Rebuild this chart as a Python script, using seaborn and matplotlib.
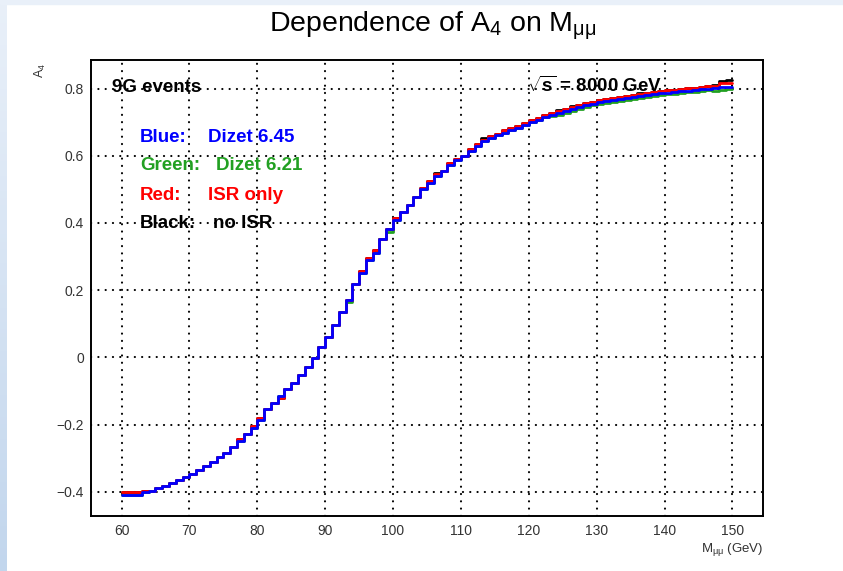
import numpy as np
import pandas as pd
import matplotlib
matplotlib.use("Agg")
import matplotlib.pyplot as plt
import seaborn as sns
from matplotlib.colors import LinearSegmentedColormap

# ---------------- data (bin low edges 60..149, width 1 GeV) ----------------
mass_lo = list(range(60, 150))

blue = [-0.410, -0.410, -0.410, -0.402, -0.398, -0.390, -0.383, -0.375, -0.365, -0.357,
        -0.347, -0.335, -0.323, -0.310, -0.297, -0.284, -0.266, -0.249, -0.228, -0.211,
        -0.185, -0.155, -0.136, -0.116, -0.093, -0.076, -0.052, -0.029, -0.002, 0.031,
        0.061, 0.095, 0.134, 0.172, 0.217, 0.250, 0.290, 0.310, 0.351, 0.381,
        0.409, 0.433, 0.453, 0.476, 0.500, 0.520, 0.540, 0.556, 0.572, 0.586,
        0.600, 0.615, 0.630, 0.643, 0.654, 0.661, 0.668, 0.676, 0.684, 0.691,
        0.700, 0.707, 0.714, 0.721, 0.727, 0.733, 0.739, 0.745, 0.750, 0.755,
        0.759, 0.763, 0.766, 0.769, 0.772, 0.775, 0.778, 0.781, 0.783, 0.786,
        0.788, 0.790, 0.792, 0.794, 0.796, 0.798, 0.800, 0.802, 0.804, 0.806]

red = [-0.400, -0.400, -0.400, -0.397, -0.398, -0.390, -0.383, -0.375, -0.365, -0.357,
       -0.347, -0.335, -0.323, -0.310, -0.297, -0.284, -0.266, -0.244, -0.228, -0.203,
       -0.180, -0.155, -0.136, -0.121, -0.093, -0.076, -0.052, -0.029, -0.002, 0.031,
       0.061, 0.095, 0.134, 0.172, 0.217, 0.256, 0.296, 0.320, 0.351, 0.381,
       0.416, 0.433, 0.453, 0.476, 0.503, 0.526, 0.545, 0.556, 0.578, 0.591,
       0.600, 0.620, 0.636, 0.648, 0.659, 0.666, 0.676, 0.682, 0.690, 0.697,
       0.706, 0.713, 0.720, 0.727, 0.733, 0.739, 0.745, 0.751, 0.756, 0.761,
       0.765, 0.769, 0.772, 0.775, 0.778, 0.781, 0.784, 0.787, 0.789, 0.792,
       0.795, 0.797, 0.799, 0.801, 0.803, 0.805, 0.807, 0.809, 0.816, 0.818]

green = [-0.410, -0.410, -0.410, -0.402, -0.398, -0.390, -0.383, -0.375, -0.365, -0.357,
         -0.347, -0.335, -0.323, -0.310, -0.297, -0.284, -0.266, -0.249, -0.228, -0.211,
         -0.185, -0.155, -0.136, -0.116, -0.093, -0.076, -0.052, -0.029, -0.002, 0.031,
         0.061, 0.095, 0.134, 0.165, 0.217, 0.250, 0.290, 0.310, 0.351, 0.373,
         0.409, 0.433, 0.453, 0.476, 0.500, 0.520, 0.540, 0.556, 0.572, 0.586,
         0.600, 0.615, 0.630, 0.643, 0.654, 0.661, 0.668, 0.676, 0.684, 0.691,
         0.700, 0.707, 0.714, 0.718, 0.722, 0.728, 0.733, 0.739, 0.745, 0.750,
         0.754, 0.758, 0.761, 0.764, 0.767, 0.770, 0.773, 0.776, 0.778, 0.781,
         0.783, 0.785, 0.787, 0.789, 0.791, 0.793, 0.795, 0.793, 0.797, 0.800]

black = [-0.400, -0.400, -0.400, -0.397, -0.398, -0.390, -0.383, -0.375, -0.365, -0.357,
         -0.347, -0.335, -0.323, -0.310, -0.297, -0.284, -0.266, -0.244, -0.228, -0.203,
         -0.180, -0.155, -0.136, -0.121, -0.093, -0.076, -0.052, -0.029, -0.002, 0.031,
         0.061, 0.095, 0.134, 0.172, 0.217, 0.256, 0.296, 0.320, 0.351, 0.381,
         0.416, 0.433, 0.453, 0.476, 0.503, 0.526, 0.548, 0.556, 0.578, 0.591,
         0.600, 0.620, 0.636, 0.652, 0.659, 0.666, 0.676, 0.682, 0.690, 0.697,
         0.706, 0.713, 0.720, 0.727, 0.736, 0.739, 0.749, 0.751, 0.758, 0.761,
         0.765, 0.769, 0.772, 0.775, 0.778, 0.781, 0.786, 0.787, 0.789, 0.792,
         0.795, 0.797, 0.799, 0.801, 0.803, 0.805, 0.807, 0.812, 0.822, 0.824]

series_names = ["Black", "Green", "Red", "Blue"]
series_vals = [black, green, red, blue]
series_colors = ["#000000", "#22a022", "#ff0000", "#0000ff"]

x_ticks = [60, 70, 80, 90, 100, 110, 120, 130, 140, 150]
y_ticks = [-0.4, -0.2, 0.0, 0.2, 0.4, 0.6, 0.8]
y_ticklabels = ["\u22120.4", "\u22120.2", "0", "0.2", "0.4", "0.6", "0.8"]

legend_labels = [("Blue:", "Dizet 6.45", "#0000ff"),
                 ("Green:", "Dizet 6.21", "#22a022"),
                 ("Red:", "ISR only", "#ff0000"),
                 ("Black:", "no ISR", "#000000")]

# ---------------- style ----------------
sns.set_style("white")
plt.rcParams["font.family"] = ["Liberation Sans", "DejaVu Sans"]
plt.rcParams["mathtext.fontset"] = "custom"
plt.rcParams["mathtext.rm"] = "Liberation Sans"
plt.rcParams["mathtext.it"] = "Liberation Sans:italic"
plt.rcParams["mathtext.bf"] = "Liberation Sans:bold"

W, H = 843, 571
fig = plt.figure(figsize=(W / 100, H / 100), dpi=100)
fig.patch.set_facecolor("white")

# light blue window strips (left gradient, top)
strip = fig.add_axes([0, 0, 7 / W, 1])
grad = np.linspace(0, 1, 256).reshape(-1, 1)
cmap = LinearSegmentedColormap.from_list("s", ["#e9f0f9", "#c2d6ed"])
strip.imshow(grad, aspect="auto", cmap=cmap, extent=[0, 1, 0, 1], origin="upper")
strip.set_axis_off()
fig.patches.append(plt.Rectangle((0, 1 - 4 / H), 1, 4 / H, transform=fig.transFigure,
                                 color="#e9f0f9", zorder=0))

ax = fig.add_axes([91 / W, 1 - 516 / H, (763 - 91) / W, (516 - 60) / H])
ax.set_facecolor("white")

# ---------------- data lines ----------------
edges = mass_lo + [mass_lo[-1] + 1]
frames = []
for name, vals in zip(series_names, series_vals):
    frames.append(pd.DataFrame({"m": edges, "A4": list(vals) + [vals[-1]], "s": name}))
df = pd.concat(frames, ignore_index=True)

for name, col in zip(series_names, series_colors):
    sub = df[df["s"] == name]
    sns.lineplot(data=sub, x="m", y="A4", ax=ax, color=col, lw=2.0,
                 drawstyle="steps-post", estimator=None, sort=False, zorder=3)

# ---------------- axes ----------------
ax.set_xlim(55.5, 154.5)
ax.set_ylim(-0.472, 0.885)
ax.set_xticks(x_ticks)
ax.set_xticklabels([str(t) for t in x_ticks])
ax.set_xticks(np.arange(56, 155, 2), minor=True)
ax.set_yticks(y_ticks)
ax.set_yticklabels(y_ticklabels)
ax.set_yticks(np.arange(-0.45, 0.86, 0.05), minor=True)
ax.set_xlabel("")
ax.set_ylabel("")

ax.grid(True, which="major", color="black", linestyle=(0, (0.1, 3.4)),
        linewidth=1.5, dash_capstyle="round", zorder=1)
ax.set_axisbelow(True)

for sp in ax.spines.values():
    sp.set_linewidth(1.4)
    sp.set_color("black")

ax.tick_params(axis="x", which="major", direction="in", length=9.5, width=1.1,
               labelsize=10, pad=6, colors="black", labelcolor="#333333")
ax.tick_params(axis="x", which="minor", direction="in", length=5, width=1.1)
ax.tick_params(axis="y", which="major", direction="in", length=15, width=1.1,
               labelsize=10, pad=5, colors="black", labelcolor="#333333")
ax.tick_params(axis="y", which="minor", direction="in", length=8, width=1.1)
ax.tick_params(top=False, right=False, which="both")

# ---------------- texts ----------------
def px(x, y):
    return x / W, 1 - y / H

fig.text(*px(433, 26), r"Dependence of A$_{4}$ on M$_{\mathrm{\mu\mu}}$", ha="center",
         va="center", fontsize=20.5, color="black")
fig.text(*px(40, 70), r"A$_{4}$", ha="center", va="center", rotation=90,
         fontsize=9, color="#333333")
fig.text(*px(763, 549), r"M$_{\mathrm{\mu\mu}}$ (GeV)", ha="right", va="center",
         fontsize=9.5, color="#333333")

fs = 13.5
fig.text(*px(112, 87), "9G events", ha="left", va="center", fontsize=fs,
         fontweight="bold", color="black", zorder=5)
fig.text(*px(527, 86), r"$\sqrt{\mathbf{s}}$ = 8000 GeV", ha="left", va="center",
         fontsize=fs, fontweight="bold", color="black", zorder=5)

rows_y = [137, 166, 196, 223]
cols_x2 = [208, 216, 208, 213]
for (lab, desc, col), yy, x2 in zip(legend_labels, rows_y, cols_x2):
    fig.text(*px(140, yy), lab, ha="left", va="center", fontsize=fs,
             fontweight="bold", color=col, zorder=5)
    fig.text(*px(x2, yy), desc, ha="left", va="center", fontsize=fs,
             fontweight="bold", color=col, zorder=5)

fig.savefig("out.png", dpi=100)
